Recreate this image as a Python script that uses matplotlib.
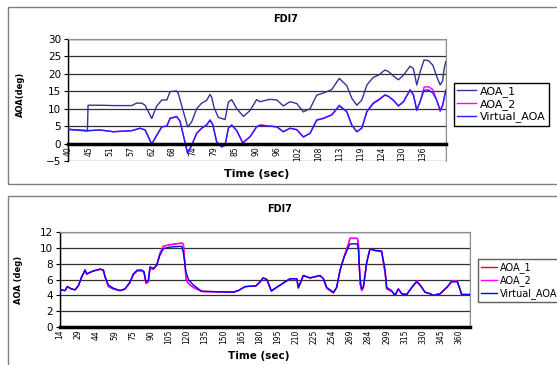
import matplotlib.pyplot as plt
from matplotlib.patches import Rectangle

# top chart (x = position along category axis, 1 unit = 1 tick label)
top_labels = ["40", "45", "51", "57", "62", "68", "74", "79", "85", "90",
              "96", "102", "108", "113", "119", "124", "130", "136"]
t1_top = [0.00, 0.45, 0.93, 0.96, 1.53, 2.2, 3.05, 3.29, 3.53, 3.69, 4.01, 4.25,
          4.49, 4.73, 4.89, 5.20, 5.28, 5.73, 5.92, 6.16, 6.40, 6.64, 6.80, 6.88,
          6.99, 7.20, 7.52, 7.68, 7.84, 8.08, 8.40, 8.72, 9.03, 9.20, 9.67, 10.0,
          10.31, 10.63, 10.95, 11.27, 11.59, 11.91, 12.23, 12.63, 12.99, 13.35,
          13.59, 13.83, 14.07, 14.31, 14.62, 14.86, 15.18, 15.34, 15.58, 15.82,
          16.06, 16.38, 16.54, 16.70, 16.86, 17.05, 17.26, 17.47, 17.66, 17.82,
          17.94, 18.01, 18.09]
aoa1_top = [4.1, 3.8, 3.6, 11.0, 11.0, 10.9, 10.9, 11.6, 11.6, 11.0, 7.2, 10.8,
            12.5, 12.5, 14.9, 15.1, 14.4, 4.8, 6.2, 10.0, 11.6, 12.4, 14.1, 13.3,
            10.4, 7.5, 6.9, 11.9, 12.6, 10.0, 7.8, 9.5, 12.6, 12.0, 12.7, 12.5,
            10.8, 12.0, 11.5, 9.1, 10.0, 13.9, 14.5, 15.5, 18.7, 16.6,
            13.0, 11.0, 12.5, 16.8, 19.0, 19.6, 21.1, 20.7, 19.4, 18.3,
            19.6, 22.2, 21.5, 16.8, 20.5, 24.0, 23.8, 22.5, 19.2, 16.8,
            18.0, 21.5, 23.5]
tv_top = [0.00, 0.97, 1.53, 2.17, 3.05, 3.45, 3.69, 4.01, 4.25, 4.49, 4.73, 4.89,
          5.20, 5.36, 5.73, 5.92, 6.16, 6.40, 6.64, 6.80, 6.93, 7.12, 7.36, 7.52,
          7.68, 7.84, 8.08, 8.37, 8.72, 9.03, 9.20, 9.67, 10.0, 10.31, 10.63,
          10.95, 11.27, 11.59, 11.91, 12.23, 12.63, 12.99, 13.35, 13.59, 13.83,
          14.07, 14.31, 14.62, 14.86, 15.18, 15.34, 15.58, 15.82, 16.06, 16.38,
          16.54, 16.70, 16.86, 17.05, 17.26, 17.47, 17.66, 17.82, 17.94, 18.09]
virt_top = [4.1, 3.7, 3.9, 3.4, 3.7, 4.4, 3.9, -0.1, 2.4, 4.8, 5.0, 7.2,
            7.7, 6.5, -2.8, -0.5, 2.9, 4.4, 5.3, 6.7, 5.5, 0.5, -0.9, -0.5,
            4.4, 5.3, 3.7, 0.2, 2.0, 4.8, 5.3, 5.0, 4.8, 3.4, 4.4,
            4.0, 1.9, 2.9, 6.7, 7.2, 8.2, 10.8, 9.1, 5.3, 3.4,
            4.4, 9.1, 11.5, 12.4, 13.9, 13.5, 12.4, 10.8, 12.0, 15.3,
            14.0, 9.6, 12.0, 15.3, 15.4, 14.5, 12.4, 9.6, 11.0, 15.3]
aoa2_top = [4.1, 3.7, 3.9, 3.4, 3.7, 4.4, 3.9, -0.2, 2.4, 4.8, 5.0, 7.3,
            7.8, 6.5, -2.9, -0.5, 2.9, 4.4, 5.4, 6.8, 5.5, 0.4, -1.0, -0.5,
            4.4, 5.3, 3.7, 0.2, 2.0, 4.8, 5.3, 5.0, 4.8, 3.4, 4.4,
            4.0, 1.9, 3.0, 6.8, 7.3, 8.3, 11.0, 9.2, 5.3, 3.4,
            4.5, 9.3, 11.7, 12.6, 14.0, 13.6, 12.5, 10.8, 12.0, 15.5,
            14.0, 9.5, 12.0, 16.2, 16.3, 15.5, 12.4, 9.2, 11.0, 15.3]

# bottom chart
bot_labels = ["14", "29", "44", "59", "75", "90", "105", "120", "135", "150",
              "165", "180", "195", "210", "225", "254", "269", "284", "299",
              "315", "330", "345", "360"]
t_bot = [0.00, 0.28, 0.40, 0.64, 0.83, 1.01, 1.19, 1.38, 1.47, 1.75, 2.02, 2.21,
         2.39, 2.48, 2.67, 2.94, 3.31, 3.58, 3.86, 4.04, 4.26, 4.50, 4.63, 4.74,
         4.87, 4.96, 5.15, 5.33, 5.51, 5.70, 6.07, 6.71, 6.80, 6.95, 7.08, 7.35,
         7.81, 9.56, 9.83, 10.2, 10.8, 11.03, 11.2, 11.4, 11.65, 11.8, 12.68,
         13.05, 13.14, 13.41, 13.78, 14.15, 14.33, 14.52, 14.70, 15.07, 15.25,
         15.44, 15.66, 15.90, 15.99, 16.39, 16.45, 16.54, 16.63, 16.72, 16.91,
         17.09, 17.28, 17.73, 17.92, 18.01, 18.28, 18.47, 18.65, 18.84, 19.11,
         19.39, 19.66, 19.85, 20.12, 20.40, 20.58, 20.95, 21.32, 21.59, 21.90,
         22.05, 22.14, 22.57]
virt_bot = [4.7, 4.6, 5.1, 4.8, 4.7, 5.2, 6.3, 7.2, 6.7, 7.0, 7.2, 7.3,
            7.2, 6.4, 5.3, 4.9, 4.6, 4.8, 5.7, 6.7, 7.2, 7.2, 7.0, 5.7,
            5.9, 7.6, 7.4, 7.8, 9.1, 9.9, 10.1, 10.2, 9.4, 6.9, 6.0, 5.3,
            4.5, 4.4, 4.6, 5.1, 5.2, 5.7, 6.2, 6.0, 4.6, 4.8, 6.1,
            6.1, 5.0, 6.5, 6.2, 6.4, 6.5, 6.1, 5.0, 4.4, 5.0,
            7.2, 8.8, 10.1, 10.5, 10.5, 9.7, 6.1, 4.8, 5.0, 8.2,
            9.9, 9.7, 9.6, 7.2, 5.0, 4.6, 4.0, 4.8, 4.2, 4.1,
            5.0, 5.7, 5.3, 4.4, 4.2, 4.0, 4.2, 5.0, 5.7, 5.7,
            4.8, 4.1, 4.1]
aoa2_bot = [4.7, 4.6, 5.1, 4.8, 4.7, 5.2, 6.3, 7.2, 6.7, 7.0, 7.2, 7.3,
            7.2, 6.3, 5.1, 4.8, 4.6, 4.8, 5.6, 6.6, 7.1, 7.1, 6.9, 5.5,
            5.7, 7.4, 7.3, 7.8, 9.3, 10.2, 10.4, 10.6, 10.5, 6.0, 5.5, 5.0,
            4.5, 4.4, 4.6, 5.1, 5.2, 5.7, 6.2, 6.0, 4.5, 4.8, 6.1,
            6.1, 4.9, 6.5, 6.2, 6.4, 6.5, 6.1, 4.9, 4.3, 5.0,
            7.2, 8.9, 10.5, 11.2, 11.2, 10.5, 5.5, 4.6, 5.0, 8.2,
            9.9, 9.7, 9.5, 6.8, 4.8, 4.5, 4.0, 4.8, 4.2, 4.1,
            5.0, 5.8, 5.3, 4.4, 4.2, 4.0, 4.2, 5.0, 5.8, 5.8,
            4.7, 4.1, 4.1]
aoa1_bot = list(aoa2_bot)

fig = plt.figure(figsize=(5.57, 3.65), dpi=100)
W, H = 557.0, 365.0

# outer chart frames
fig.patches.append(Rectangle((8 / W, 1 - 184 / H), 560 / W, 177 / H, transform=fig.transFigure,
                             fill=False, edgecolor="#808080", lw=1))
fig.patches.append(Rectangle((8 / W, -0.02), 560 / W, (365 - 196) / H + 0.02, transform=fig.transFigure,
                             fill=False, edgecolor="#808080", lw=1))


def style_axes(ax, labels, xmax, ylim, step):
    ax.set_xlim(0, xmax)
    ax.set_ylim(*ylim)
    ax.set_yticks(range(ylim[0], ylim[1] + 1, step))
    for y in range(ylim[0] + step, ylim[1] + 1, step):
        if y != 0:
            ax.axhline(y, color="#303030", lw=0.9, zorder=1)
    for s in ["top", "right"]:
        ax.spines[s].set_color("#909090")
    ax.spines["bottom"].set_position(("data", 0))
    ax.spines["bottom"].set_linewidth(2.5)
    ax.spines["bottom"].set_zorder(5)
    ax.spines["left"].set_linewidth(1)
    ax.add_patch(Rectangle((0, 0), 1, 1, transform=ax.transAxes, fill=False,
                           edgecolor="#909090", lw=1, zorder=0))
    ax.set_xticks(range(len(labels)))
    ax.set_xticklabels(labels, rotation=90, fontsize=5.5)
    ax.tick_params(axis="x", length=0, pad=2)
    ax.tick_params(axis="y", length=3, labelsize=7.5, pad=2)


# top panel
ax1 = fig.add_axes([68 / W, 1 - 161 / H, 378 / W, 122 / H])
l1 = ax1.plot(t1_top, aoa1_top, color="#333399", lw=1, label="AOA_1", zorder=3)[0]
l2 = ax1.plot(tv_top, aoa2_top, color="#FF00FF", lw=1, label="AOA_2", zorder=3)[0]
l3 = ax1.plot(tv_top, virt_top, color="#2020FF", lw=1, label="Virtual_AOA", zorder=4)[0]
style_axes(ax1, top_labels, 18.1, (-5, 30), 5)
ax1.set_ylabel("AOA(deg)", fontsize=6, fontweight="bold")
ax1.yaxis.set_label_coords(-0.115, 0.55)
ax1.set_xlabel("Time (sec)", fontsize=8, fontweight="bold")
ax1.xaxis.set_label_coords(0.5, -0.065)
fig.text(286 / W, 1 - 19 / H, "FDI7", fontsize=7, fontweight="bold", ha="center", va="center")
fig.legend(handles=[l1, l2, l3], loc="upper left", bbox_to_anchor=(454 / W, 1 - 83 / H),
           fontsize=8, frameon=True, fancybox=False, edgecolor="black", framealpha=1,
           handlelength=1.7, handletextpad=0.3, labelspacing=0.15, borderpad=0.3, borderaxespad=0)

# bottom panel
ax2 = fig.add_axes([60 / W, 1 - 327 / H, 410 / W, 95 / H])
m1 = ax2.plot(t_bot, aoa1_bot, color="#FF0000", lw=1, label="AOA_1", zorder=3)[0]
m2 = ax2.plot(t_bot, aoa2_bot, color="#FF00FF", lw=1, label="AOA_2", zorder=3)[0]
m3 = ax2.plot(t_bot, virt_bot, color="#0000FF", lw=1, label="Virtual_AOA", zorder=4)[0]
style_axes(ax2, bot_labels, 22.6, (0, 12), 2)
ax2.set_ylabel("AOA (deg)", fontsize=6, fontweight="bold")
ax2.yaxis.set_label_coords(-0.09, 0.5)
ax2.set_xlabel("Time (sec)", fontsize=7.5, fontweight="bold")
ax2.xaxis.set_label_coords(0.485, -0.25)
fig.text(280 / W, 1 - 209 / H, "FDI7", fontsize=7, fontweight="bold", ha="center", va="center")
fig.legend(handles=[m1, m2, m3], loc="upper left", bbox_to_anchor=(478 / W, 1 - 259 / H),
           fontsize=7, frameon=True, fancybox=False, edgecolor="#606060", framealpha=1,
           handlelength=1.7, handletextpad=0.3, labelspacing=0.25, borderpad=0.3, borderaxespad=0)

fig.savefig("out.png", dpi=100)
